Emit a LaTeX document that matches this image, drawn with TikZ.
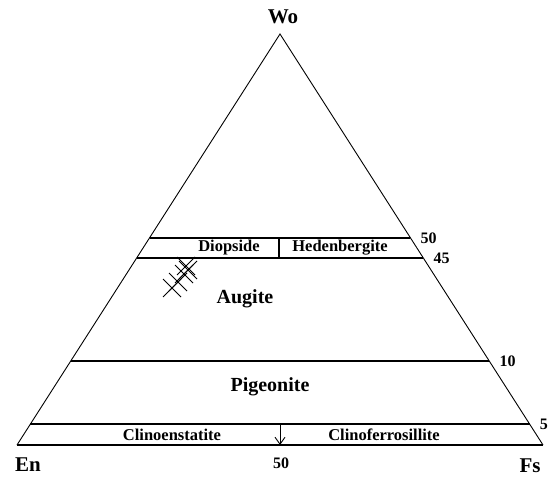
\documentclass[tikz,border=0pt]{standalone}
\usepackage{fontspec}
\setmainfont{Liberation Serif}
\usetikzlibrary{calc, arrows.meta}
\tikzset{
    sideline/.style={line width=.9pt},
    bandline/.style={line width=1.8pt},
    smalllbl/.style={font=\fontsize{16.5}{18}\selectfont\bfseries, inner sep=0pt},
    fieldlbl/.style={font=\fontsize{20}{22}\selectfont\bfseries, inner sep=0pt},
    polelbl/.style={font=\fontsize{21}{24}\selectfont\bfseries, inner sep=0pt},
    numlbl/.style={font=\fontsize{16}{18}\selectfont\bfseries, inner sep=0pt},
    cross/.pic={
        \draw[line width=.8pt] (-9, -9) -- (9, 9);
        \draw[line width=.8pt] (-9, 9) -- (9, -9);
    },
}

\begin{document}
\begin{tikzpicture}[x=1pt, y=-1pt]
    \useasboundingbox (0, 0) rectangle (549, 478);
    \coordinate (Wo) at (280, 34);
    \coordinate (En) at (17, 445);
    \coordinate (Fs) at (543, 445);
    % triangle
    \draw[sideline] (En) -- (Wo) -- (Fs);
    \draw[bandline] (En) -- (Fs);
    % composition lines, fraction of height towards Wo
    \foreach \t/\n in {.504/50, .455/45, .204/10, .051/5} {
        \draw[bandline] ($(En)!\t!(Wo)$) coordinate (l\n) -- ($(Fs)!\t!(Wo)$)
            coordinate (r\n);
        \node[numlbl, anchor=west, xshift=10] (n\n) at (r\n) {\n};
    }
    \draw[bandline] ($(l50)!.497!(r50)$) coordinate (d50) -- (d50 |- l45);
    \draw[line width=.9pt, -{Straight Barb[length=7pt, width=10pt]}]
        ($(l5)!.5!(r5)$) coordinate (a5) -- (a5 |- En);
    % field names
    \node[smalllbl] (diop) at (229, 248) {Diopside};
    \node[smalllbl] (hed) at (340, 248) {Hedenbergite};
    \node[fieldlbl] (aug) at (245, 299) {Augite};
    \node[fieldlbl] (pig) at (270, 387) {Pigeonite};
    \node[smalllbl] (cen) at (172, 435) {Clinoenstatite};
    \node[smalllbl] (cfs) at (384, 435) {Clinoferrosillite};
    % end members
    \node[polelbl] (wo) at (283, 17) {Wo};
    \node[polelbl] (en) at (28, 465) {En};
    \node[polelbl] (fs) at (530, 466) {Fs};
    \node[numlbl] (b50) at (281, 463) {50};
    % analyses
    \foreach \p in {(186, 266), (188, 270), (184, 274), (178, 282), (172, 288)}
        \pic at \p {cross};
\end{tikzpicture}
\end{document}
